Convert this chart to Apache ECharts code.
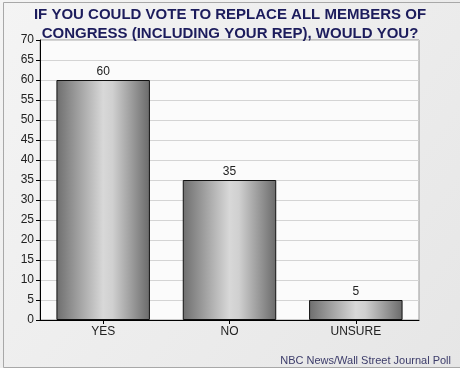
<!DOCTYPE html>
<html>
<head>
<meta charset="utf-8">
<script src="https://cdn.jsdelivr.net/npm/echarts@6/dist/echarts.min.js"></script>
<style>html,body{margin:0;padding:0;background:#fff}#c{width:460px;height:368px}</style>
</head>
<body>
<div id="c"></div>
<script>
var categories = ["YES", "NO", "UNSURE"];
var values = [60, 35, 5];
var titleLines = ["IF YOU COULD VOTE TO REPLACE ALL MEMBERS OF", "CONGRESS (INCLUDING YOUR REP), WOULD YOU?"];
var sourceText = "NBC News/Wall Street Journal Poll";

var chart = echarts.init(document.getElementById('c'));
var barGrad = new echarts.graphic.LinearGradient(0, 0, 1, 0, [
  {offset: 0, color: '#6e6e6e'},
  {offset: 0.5, color: '#d8d8d8'},
  {offset: 0.6, color: '#d0d0d0'},
  {offset: 1, color: '#6a6a6a'}
]);
chart.setOption({
  animation: false,
  backgroundColor: new echarts.graphic.LinearGradient(0, 0, 1, 1, [
    {offset: 0, color: '#f4f4f4'},
    {offset: 1, color: '#e6e6e6'}
  ]),
  graphic: [
    {type: 'rect', left: 1, top: 0, shape: {width: 457, height: 365}, style: {fill: 'none', stroke: '#a8a8a8', lineWidth: 1}, z: 100},
    {type: 'text', left: 'center', top: 5, style: {text: titleLines.join('\n'), font: 'bold 15px "Liberation Sans", Arial, sans-serif', fill: '#1c1c5c', textAlign: 'center', lineHeight: 19}, z: 50},
    {type: 'text', right: 9, top: 355, style: {text: sourceText, font: '11px "Liberation Sans", Arial, sans-serif', fill: '#3c3c6a'}}
  ],
  grid: {left: 40, right: 41, top: 40, bottom: 48, show: true, backgroundColor: '#fbfbfb', borderColor: '#999', borderWidth: 1},
  xAxis: {
    type: 'category',
    data: categories,
    axisLine: {lineStyle: {color: '#000', width: 1}},
    axisTick: {show: true, alignWithLabel: true, length: 4, lineStyle: {color: '#000'}},
    axisLabel: {color: '#222', fontFamily: '"Liberation Sans", Arial, sans-serif', fontSize: 12, margin: 6},
    splitLine: {show: false}
  },
  yAxis: {
    type: 'value',
    min: 0, max: 70, interval: 5,
    axisLine: {show: true, lineStyle: {color: '#000', width: 1}},
    axisTick: {show: true, length: 4, inside: false, lineStyle: {color: '#000'}},
    axisLabel: {color: '#222', fontFamily: '"Liberation Sans", Arial, sans-serif', fontSize: 12, margin: 6},
    splitLine: {show: true, lineStyle: {color: '#d4d4d4', width: 1}}
  },
  series: [{
    type: 'bar',
    data: values,
    barWidth: '74%',
    itemStyle: {color: barGrad, borderColor: '#111', borderWidth: 1},
    label: {show: true, position: 'top', distance: 2, color: '#222', fontFamily: '"Liberation Sans", Arial, sans-serif', fontSize: 12}
  }]
});
</script>
</body>
</html>
